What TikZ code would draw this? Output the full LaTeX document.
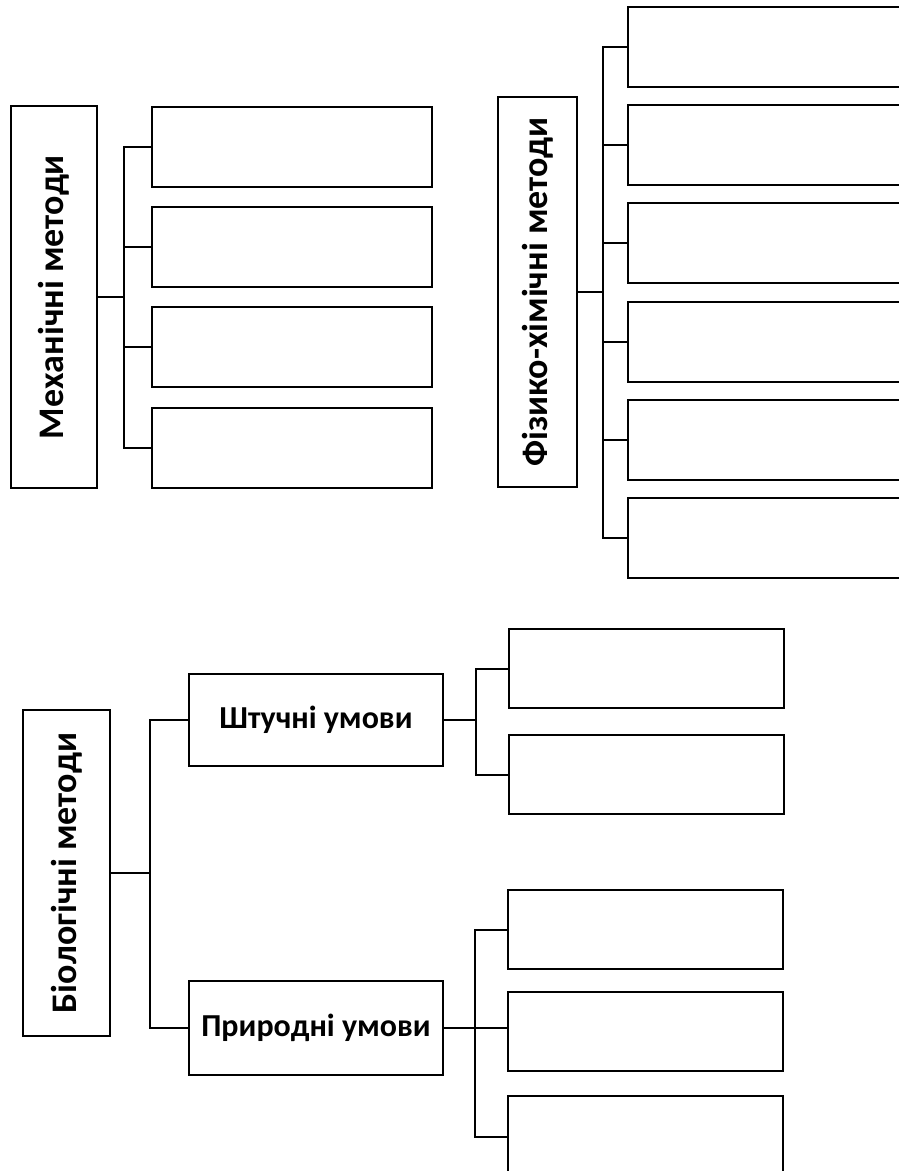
\documentclass[tikz,border=0pt]{standalone}
\usepackage{fontspec}
\setmainfont{Carlito}
\begin{document}
\begin{tikzpicture}[x=1pt,y=-1pt,
  frame/.style={draw, line width=2pt, inner sep=0pt, fill=white},
  vtext/.style={font=\bfseries\fontsize{36}{40}\selectfont},
  htext/.style={font=\bfseries\fontsize{32}{36}\selectfont},
  conn/.style={line width=2pt, line join=miter}]
\clip (0,0) rectangle (899,1171);
\fill[white] (0,0) rectangle (899,1171);

% ---------- Механічні методи ----------
\node[frame, vtext, minimum width=86, minimum height=382] (mech) at (54,297) {\rotatebox{90}{Механічні методи}};
\foreach \i/\y in {1/146.5,2/247,3/347,4/447.5}
  \node[frame, minimum width=280, minimum height=80] (m\i) at (292,\y) {};
\coordinate (mbus) at (124,0);
\draw[conn] (mech.east) -- (mech.east -| mbus);
\draw[conn] (m1.west) -| (mbus |- m4.west) -- (m4.west);
\draw[conn] (m2.west) -- (m2.west -| mbus);
\draw[conn] (m3.west) -- (m3.west -| mbus);

% ---------- Фізико-хімічні методи ----------
\node[frame, vtext, minimum width=79, minimum height=390] (phys) at (537.5,292) {\rotatebox{90}{Фізико-хімічні методи}};
\foreach \i/\y in {1/47,2/145.2,3/243.4,4/341.6,5/439.8,6/538}
  \node[frame, minimum width=312, minimum height=80] (f\i) at (784,\y) {};
\coordinate (fbus) at (603,0);
\draw[conn] (phys.east) -- (phys.east -| fbus);
\draw[conn] (f1.west) -| (fbus |- f6.west) -- (f6.west);
\foreach \i in {2,3,4,5}
  \draw[conn] (f\i.west) -- (f\i.west -| fbus);

% ---------- Біологічні методи ----------
\node[frame, vtext, minimum width=87, minimum height=326] (bio) at (66.5,873) {\rotatebox{90}{Біологічні методи}};
\node[frame, htext, minimum width=254, minimum height=92] (art) at (316,720) {Штучні умови};
\node[frame, htext, minimum width=254, minimum height=94] (nat) at (316,1028) {Природні умови};
\coordinate (bbus) at (150,0);
\draw[conn] (bio.east) -- (bio.east -| bbus);
\draw[conn] (art.west) -| (bbus |- nat.west) -- (nat.west);

% children of Штучні умови
\node[frame, minimum width=275, minimum height=79] (a1) at (646.5,668.5) {};
\node[frame, minimum width=275, minimum height=79] (a2) at (646.5,774.5) {};
\coordinate (abus) at (476,0);
\draw[conn] (art.east) -- (art.east -| abus);
\draw[conn] (a1.west) -| (abus |- a2.west) -- (a2.west);

% children of Природні умови
\node[frame, minimum width=275, minimum height=79] (n1) at (645.5,929.5) {};
\node[frame, minimum width=275, minimum height=79] (n2) at (645.5,1031.5) {};
\node[frame, minimum width=275, minimum height=82] (n3) at (645.5,1137) {};
\coordinate (nbus) at (475,0);
\draw[conn] (nat.east) -- (nat.east -| n2.west);
\draw[conn] (n1.west) -| (nbus |- n3.west) -- (n3.west);
\end{tikzpicture}
\end{document}
